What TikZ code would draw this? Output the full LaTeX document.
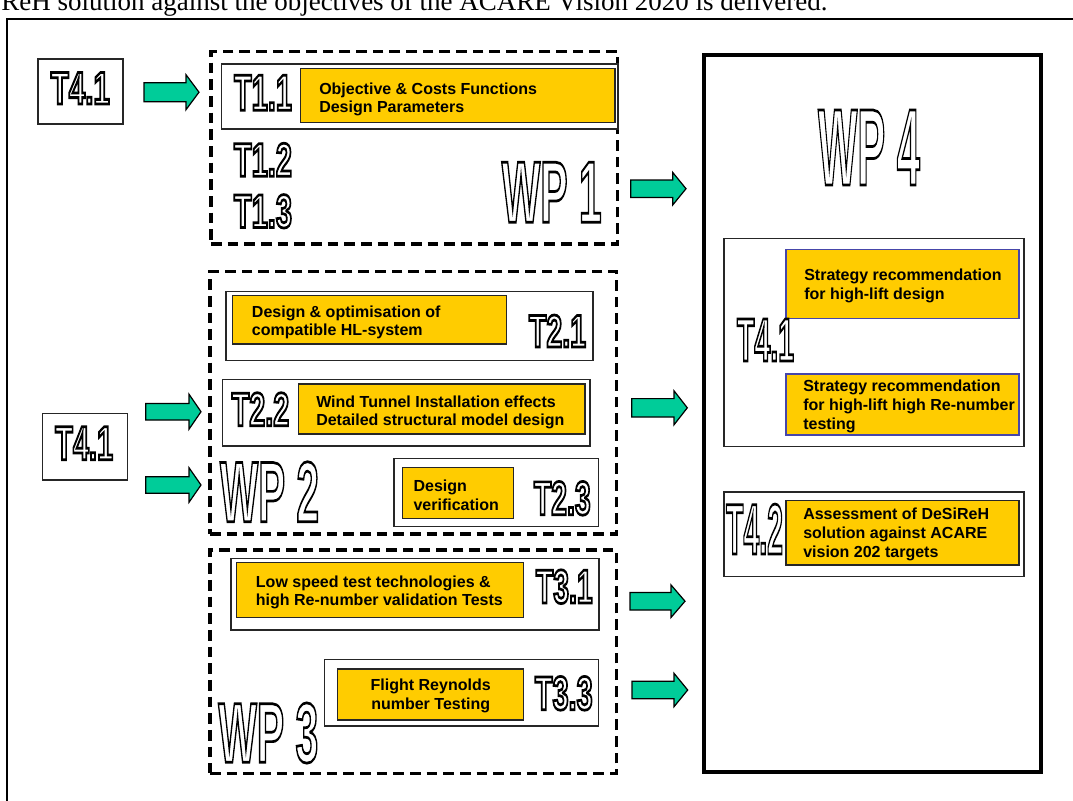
\documentclass[tikz,border=0pt]{standalone}
\usepackage{fontspec}
\usepackage{graphicx}
\setmainfont{Liberation Serif}
\newfontfamily\lsans{Liberation Sans}
\usetikzlibrary{fit}
\newlength\pxu \setlength\pxu{0.75pt}
\definecolor{ygold}{HTML}{FFCC00}
\definecolor{agreen}{HTML}{00CC99}
\definecolor{bblue}{RGB}{70,70,170}
% outlined condensed label: width (px), height (px), text
\newcommand\olab[3]{\pgfmathsetmacro\olfs{#2*0.75/0.716}%
  \resizebox{#1\pxu}{#2\pxu}{\fontsize{\olfs pt}{\olfs pt}\selectfont\lsans\bfseries
  \special{pdf:literal direct 1 Tr 2 w}#3\special{pdf:literal direct 0 Tr}}}
% green block arrow: x start, x head, x tip, y centre, shaft half, head half
\newcommand\garrow[6]{\draw[garr] (#1,{#4-#5}) -- (#2,{#4-#5}) -- (#2,{#4-#6}) -- (#3,#4)
  -- (#2,{#4+#6}) -- (#2,{#4+#5}) -- (#1,{#4+#5}) -- cycle;}
\tikzset{
  frame/.style={draw=black, line width=1.5pt},
  wpbox/.style={draw=black, line width=2.6pt, dash pattern=on 8pt off 4.5pt, inner sep=0pt},
  wp4box/.style={draw=black, line width=2.3pt, inner sep=0pt},
  taskbox/.style={draw=black!85, line width=1.1pt, fill=white, inner sep=0pt},
  ybox/.style={draw=black!85, line width=1.1pt, fill=ygold, inner sep=0pt},
  bybox/.style={ybox, draw=bblue},
  ytext/.style={font=\lsans\bfseries\fontsize{12pt}{14pt}\selectfont, align=left, inner sep=0pt, anchor=base west},
  olabel/.style={inner sep=0pt},
  garr/.style={draw=black, line width=0.9pt, fill=agreen, line join=miter},
}
\begin{document}
\begin{tikzpicture}[x=0.75pt,y=-0.75pt]
\useasboundingbox (0,0) rectangle (1073,800);
\clip (0,0) rectangle (1073,800);
% outer frame and cut header line
\draw[frame] (7,19) rectangle (1090,815);
\node[anchor=base west, inner sep=0pt, font=\fontsize{20.25pt}{24pt}\selectfont] (hdr) at (1,10.5)
  {ReH solution against the objectives of the ACARE Vision 2020 is delivered.};

% left inputs
\node[taskbox, fit={(38,59) (123,124)}] (in1) {};
\node[olabel] (in1l) at (80.3,88.3) {\olab{59}{31.5}{T4.1}};
\node[taskbox, fit={(42.7,413.3) (127.7,480)}] (in2) {};
\node[olabel] (in2l) at (84.2,443.3) {\olab{58}{33}{T4.1}};

% WP1
\node[wpbox, fit={(211,51.7) (617.7,244)}] (wp1) {};
\node[taskbox, fit={(221.7,64) (618,129)}] (t11) {};
\node[ybox, fit={(300.7,68.3) (615,122.7)}] (y11) {};
\node[ytext] (y11t) at (319,112.7) {Objective \& Costs Functions\\Design Parameters};
\node[olabel] (t11l) at (263,92.8) {\olab{58}{35}{T1.1}};
\node[olabel] (t12l) at (263,159.7) {\olab{58}{33}{T1.2}};
\node[olabel] (t13l) at (263,211.3) {\olab{58}{33}{T1.3}};
\node[olabel] (wp1l) at (551.7,192.2) {\olab{100}{60}{WP 1}};

% WP2
\node[wpbox, fit={(210,271.7) (616.7,534)}] (wp2) {};
\node[taskbox, fit={(226,291.7) (593,360.7)}] (t21) {};
\node[ybox, fit={(232.3,295.7) (506.7,344)}] (y21) {};
\node[ytext] (y21t) at (251.7,335.7) {Design \& optimisation of\\compatible HL-system};
\node[olabel] (t21l) at (557.5,331) {\olab{57}{32}{T2.1}};
\node[taskbox, fit={(222.7,379.3) (590,446)}] (t22) {};
\node[ybox, fit={(298.3,384) (585,434)}] (y22) {};
\node[ytext] (y22t) at (316,425.7) {Wind Tunnel Installation effects\\Detailed structural model design};
\node[olabel] (t22l) at (260.5,409.2) {\olab{57.5}{33}{T2.2}};
\node[taskbox, fit={(394,458.3) (598.3,526.7)}] (t23) {};
\node[ybox, fit={(402.3,467.7) (513.3,518.3)}] (y23) {};
\node[ytext] (y23t) at (413.3,510) {Design\\verification};
\node[olabel] (t23l) at (562.3,498.3) {\olab{56.7}{33.3}{T2.3}};
\node[olabel] (wp2l) at (269.5,491.7) {\olab{99}{60}{WP 2}};

% WP3
\node[wpbox, fit={(210,550) (616.7,773.3)}] (wp3) {};
\node[taskbox, fit={(231,558.3) (599,630)}] (t31) {};
\node[ybox, fit={(236.7,562.3) (523.3,617.3)}] (y31) {};
\node[ytext] (y31t) at (255.7,605.7) {Low speed test technologies \&\\high Re-number validation Tests};
\node[olabel] (t31l) at (564.3,586.7) {\olab{56.7}{33.3}{T3.1}};
\node[taskbox, fit={(324.3,659.3) (598.3,726)}] (t33) {};
\node[ybox, fit={(337.3,669) (523.3,720)}] (y33) {};
\node[ytext, align=center, anchor=base] (y33t) at (430.7,709.3) {Flight Reynolds\\number Testing};
\node[olabel] (t33l) at (563.8,693.3) {\olab{57.7}{33.3}{T3.3}};
\node[olabel] (wp3l) at (268.3,733) {\olab{100}{59.4}{WP 3}};

% WP4
\node[wp4box, fit={(704,55) (1041,772)}] (wp4) {};
\node[olabel] (wp4l) at (869,147.5) {\olab{102}{75}{WP 4}};
\node[taskbox, fit={(724,238.3) (1024,446.7)}] (t41) {};
\node[bybox, fit={(786,249.3) (1019,318.3)}] (y41a) {};
\node[ytext] (y41at) at (804,299.3) {Strategy recommendation\\for high-lift design};
\node[bybox, fit={(786,374) (1019,435)}] (y41b) {};
\node[ytext] (y41bt) at (803,429.3) {Strategy recommendation\\for high-lift high Re-number\\testing};
\node[olabel] (t41l) at (765.5,340) {\olab{57}{42}{T4.1}};
\node[taskbox, fit={(724,492) (1024,576.7)}] (t42) {};
\node[ybox, fit={(786,500.7) (1019,565)}] (y42) {};
\node[ytext] (y42t) at (803,557.3) {Assessment of DeSiReH\\solution against ACARE\\vision 202 targets};
\node[olabel] (t42l) at (754.5,529) {\olab{57}{50}{T4.2}};

% arrows
\garrow{144}{186}{199}{92.2}{9.5}{17.5}
\garrow{145.7}{189}{201}{411.7}{8.3}{17.5}
\garrow{145.7}{189}{201}{485}{8.3}{17.3}
\garrow{630.7}{672.7}{686}{188.7}{8.7}{16.3}
\garrow{631.7}{674}{687.3}{407.8}{9.2}{17}
\garrow{630}{671}{685}{601.2}{8.8}{16.3}
\garrow{632}{674}{687.7}{690}{8.7}{16.7}
\end{tikzpicture}
\end{document}
